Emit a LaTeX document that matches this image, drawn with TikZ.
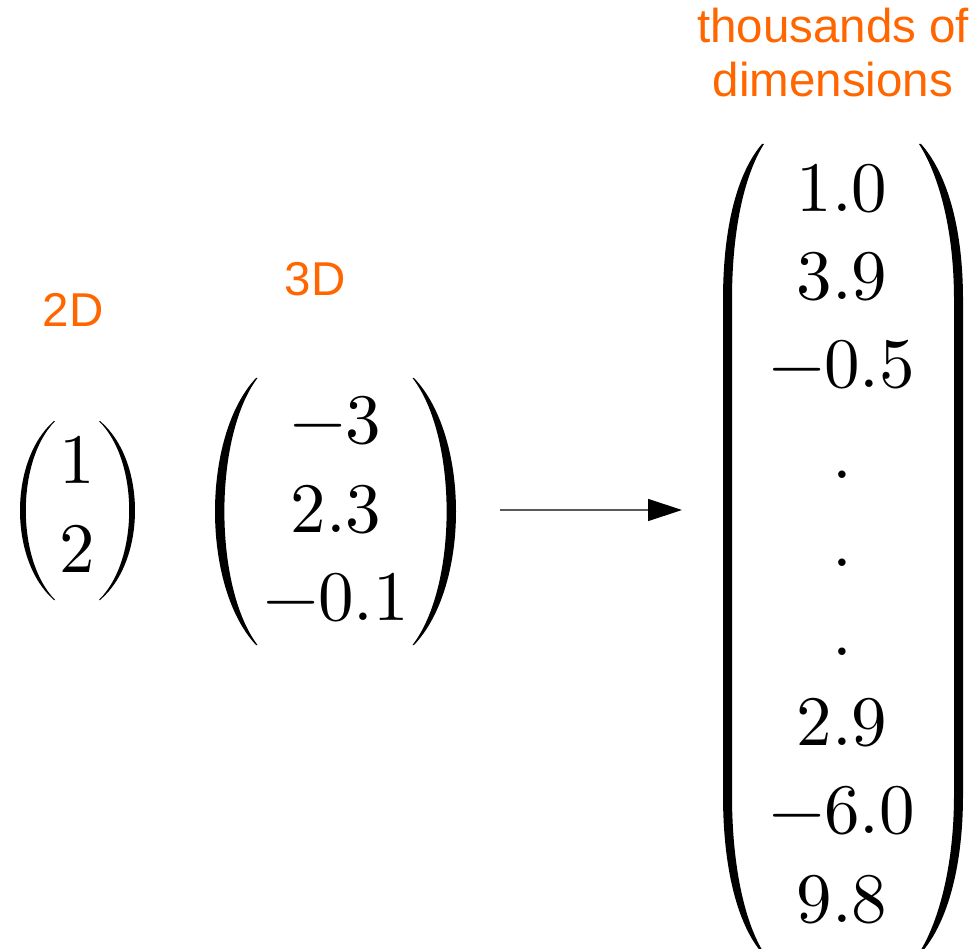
\documentclass[tikz,border=0pt]{standalone}
\usepackage{fontspec}
\newfontfamily\labelfont{Liberation Sans}
\newfontfamily\entfont{lmroman10-regular.otf}
\usetikzlibrary{arrows.meta}
\definecolor{lblorange}{RGB}{255,102,0}
\newcommand\myparen[6]{%
 \pgfmathsetmacro\co{(4*#4-#1)/3}%
 \pgfmathsetmacro\ci{(4*(#4+#5)-#1)/3}%
 \pgfmathsetmacro\ya{#2+(#3-#2)*0.22}%
 \pgfmathsetmacro\yb{#3-(#3-#2)*0.22}%
 \fill (#1,#2) .. controls (\co,\ya) and (\co,\yb) .. (#1,#3) -- (#1+#6,#3) .. controls (\ci,\yb) and (\ci,\ya) .. (#1+#6,#2) -- cycle;%
}
\begin{document}
\begin{tikzpicture}[x=1pt,y=-1pt,
  lbl/.style={font=\labelfont\fontsize{47.5}{54}\selectfont, text=lblorange, inner sep=0pt, align=center},
  ent/.style={font=\entfont\fontsize{71}{71}\selectfont, anchor=base, inner sep=0pt}]
\useasboundingbox (0,0) rectangle (977,949);
% labels
\node[lbl] (l2d) at (73,310) {2D};
\node[lbl] (l3d) at (315,279) {3D};
\node[lbl, anchor=base] (lthou) at (833,43) {thousands of};
\node[lbl, anchor=base] (ldim) at (833,97) {dimensions};
% 2D vector
\node[ent] (v1) at (77,483) {1};
\node[ent] (v2) at (77,572) {2};
\myparen{54}{421}{600}{20}{5.5}{1.2}
\myparen{100}{421}{600}{135}{-5.5}{-1.2}
% 3D vector
\node[ent] (w1) at (336,443) {−3};
\node[ent] (w2) at (336,532) {2.3};
\node[ent] (w3) at (336,620) {−0.1};
\myparen{256}{378}{645}{215}{9}{1.5}
\myparen{414}{378}{645}{456}{-9}{-1.5}
% arrow
\coordinate (a1) at (500,510);
\coordinate (a2) at (682,510);
\draw[draw=black!65, line width=1.3pt, -{Triangle[length=34pt,width=22pt,color=black]}] (a1) -- (a2);
% big vector
\node[ent] (u1) at (842,212) {1.0};
\node[ent] (u2) at (842,300) {3.9};
\node[ent] (u3) at (842,388) {−0.5};
\node[ent] (u4) at (842,478) {.};
\node[ent] (u5) at (842,566) {.};
\node[ent] (u6) at (842,655) {.};
\node[ent] (u7) at (842,745) {2.9};
\node[ent] (u8) at (842,833) {−6.0};
\node[ent] (u9) at (842,922) {9.8};
% big parentheses (extensible)
\fill (762,144) .. controls (738,172) and (723,225) .. (723,300) -- (723,795)
  .. controls (723,870) and (738,925) .. (762,953) -- (764,953)
  .. controls (746,925) and (732,870) .. (732,795) -- (732,300)
  .. controls (732,225) and (746,172) .. (764,144) -- cycle;
\fill (921,144) .. controls (946,172) and (963,225) .. (963,300) -- (963,795)
  .. controls (963,870) and (946,925) .. (921,953) -- (919,953)
  .. controls (937,925) and (954,870) .. (954,795) -- (954,300)
  .. controls (954,225) and (937,172) .. (919,144) -- cycle;
\end{tikzpicture}
\end{document}
